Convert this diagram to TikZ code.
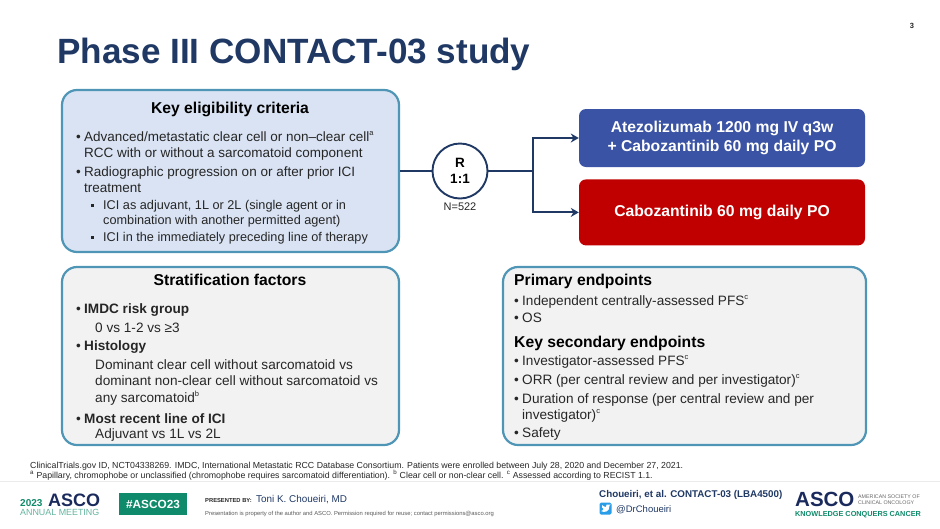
\documentclass[tikz,border=0pt]{standalone}
\usepackage{fontspec}
\setmainfont{Liberation Sans}
\usetikzlibrary{arrows.meta, positioning}
\definecolor{TitleNavy}{HTML}{1F3864}
\definecolor{BoxEdge}{HTML}{4F95B5}
\definecolor{BoxBlue}{HTML}{D9E3F3}
\definecolor{BoxGrey}{HTML}{F2F2F2}
\definecolor{ArmBlue}{HTML}{3A53A4}
\definecolor{ArmRed}{HTML}{C00000}
\definecolor{AscoGreen}{HTML}{0F8A6A}
\definecolor{AscoNavy}{HTML}{1B2A5C}
\definecolor{BodyText}{HTML}{262626}
\definecolor{TwitterBlue}{HTML}{2A9DE8}
\newcommand{\fsize}[1]{\fontsize{#1}{#1}\selectfont}
\newcommand{\noteref}[1]{\raisebox{0.42em}{\fsize{7.5}#1}}
\tikzset{
  infobox/.style={draw=BoxEdge, line width=2.2pt, rounded corners=15pt, inner sep=0pt},
  armbox/.style={rounded corners=7pt, inner sep=0pt, minimum width=286pt, align=center,
    text=white, font=\fsize{15.7}\bfseries},
  link/.style={draw=TitleNavy, line width=1.9pt},
  linkarrow/.style={link, -{Stealth[length=8pt,width=9pt]}},
  headline/.style={anchor=base, text=black, inner sep=0pt, font=\fsize{15.7}\bfseries},
  subhead/.style={anchor=base west, text=black, inner sep=0pt, font=\fsize{15.7}\bfseries},
  bodyline/.style={anchor=base west, text=BodyText, inner sep=0pt, font=\fsize{13.6}},
  boldline/.style={bodyline, font=\fsize{13.6}\bfseries},
  eligline/.style={bodyline, font=\fsize{13.5}},
  subline/.style={bodyline, font=\fsize{12.7}},
  subbullet/.style={rectangle, fill=BodyText, inner sep=0pt, minimum size=3pt},
  noteline/.style={anchor=base west, text=BodyText, inner sep=0pt, font=\fsize{8.77}},
  footline/.style={anchor=base west, inner sep=0pt},
}
\begin{document}
\begin{tikzpicture}[x=1pt, y=-1pt]
  \useasboundingbox (0,0) rectangle (940,528);
  \node[anchor=base west, inner sep=0pt, text=TitleNavy, font=\fsize{35.1}\bfseries] (title) at (57,63) {Phase III CONTACT-03 study};
  \node[anchor=base, inner sep=0pt, font=\fsize{7.5}\bfseries, text=BodyText] (pagenum) at (912,28) {3};

  % boxes
  \node[infobox, fill=BoxBlue, minimum width=337pt, minimum height=162pt] (elig) at (230.5,171) {};
  \node[infobox, fill=BoxGrey, minimum width=337pt, minimum height=178pt] (strat) at (230.5,356) {};
  \node[infobox, fill=BoxGrey, minimum width=363pt, minimum height=178pt] (endp) at (684.5,356) {};
  \node[armbox, fill=ArmBlue, minimum height=58pt] (armA) at (722,138) {Atezolizumab 1200 mg IV q3w\\[2.5pt]+ Cabozantinib 60 mg daily PO};
  \node[armbox, fill=ArmRed, minimum height=66pt, below=12pt of armA] (armB) {Cabozantinib 60 mg daily PO};

  % randomisation
  \node[circle, draw=TitleNavy, line width=1.9pt, fill=white, minimum size=55pt, inner sep=0pt, align=center,
    font=\fsize{13.5}\bfseries] (rand) at (460,171) {R\\[3pt]1:1};
  \node[below=3pt of rand, inner sep=0pt, text=BodyText, font=\fsize{11}] (nlabel) {N=522};
  \coordinate (split) at (533,171);
  \draw[link] (elig) -- (rand);
  \draw[link] (rand) -- (split);
  \draw[linkarrow] (split) |- (armA);
  \draw[linkarrow] (split) |- (armB);

  % eligibility text
  \node[headline] (eligH) at (230,113) {Key eligibility criteria};
  \node[eligline] (e0) at (76,141) {•};
  \node[eligline] (e1) at (84,141) {Advanced/metastatic clear cell or non–clear cell\noteref{a}};
  \node[eligline] (e2) at (84,157) {RCC with or without a sarcomatoid component};
  \node[eligline] (e3) at (76,176) {•};
  \node[eligline] (e4) at (84,176) {Radiographic progression on or after prior ICI};
  \node[eligline] (e5) at (84,192) {treatment};
  \node[subbullet] (e6) at (92,205) {};
  \node[subline] (e7) at (103,209) {ICI as adjuvant, 1L or 2L (single agent or in};
  \node[subline] (e8) at (103,224) {combination with another permitted agent)};
  \node[subbullet] (e9) at (92,237) {};
  \node[subline] (e10) at (103,241) {ICI in the immediately preceding line of therapy};

  % stratification text
  \node[headline] (stratH) at (230,285) {Stratification factors};
  \node[bodyline] (s0) at (76,313) {•};
  \node[boldline] (s1) at (84,313) {IMDC risk group};
  \node[bodyline] (s2) at (95,332) {0 vs 1-2 vs ≥3};
  \node[bodyline] (s3) at (76,350) {•};
  \node[boldline] (s4) at (84,350) {Histology};
  \node[bodyline] (s5) at (95,369) {Dominant clear cell without sarcomatoid vs};
  \node[bodyline] (s6) at (95,385) {dominant non-clear cell without sarcomatoid vs};
  \node[bodyline] (s7) at (95,402) {any sarcomatoid\noteref{b}};
  \node[bodyline] (s8) at (76,423) {•};
  \node[boldline] (s9) at (84,423) {Most recent line of ICI};
  \node[bodyline] (s10) at (95,438) {Adjuvant vs 1L vs 2L};

  % endpoints text
  \node[subhead] (endH1) at (514,285) {Primary endpoints};
  \node[bodyline] (p0) at (514,305) {•};
  \node[bodyline] (p1) at (522,305) {Independent centrally-assessed PFS\noteref{c}};
  \node[bodyline] (p2) at (514,322) {•};
  \node[bodyline] (p3) at (522,322) {OS};
  \node[subhead] (endH2) at (514,347) {Key secondary endpoints};
  \node[bodyline] (k0) at (514,365) {•};
  \node[bodyline] (k1) at (522,365) {Investigator-assessed PFS\noteref{c}};
  \node[bodyline] (k2) at (514,384) {•};
  \node[bodyline] (k3) at (522,384) {ORR (per central review and per investigator)\noteref{c}};
  \node[bodyline] (k4) at (514,403) {•};
  \node[bodyline] (k5) at (522,403) {Duration of response (per central review and per};
  \node[bodyline] (k6) at (522,419) {investigator)\noteref{c}};
  \node[bodyline] (k7) at (514,437) {•};
  \node[bodyline] (k8) at (522,437) {Safety};

  % footnotes
  \node[noteline] (note1) at (30,468) {ClinicalTrials.gov ID, NCT04338269. IMDC, International Metastatic RCC Database Consortium. Patients were enrolled between July 28, 2020 and December 27, 2021.};
  \node[noteline] (note2) at (30,478) {\textsuperscript{a} Papillary, chromophobe or unclassified (chromophobe requires sarcomatoid differentiation). \textsuperscript{b} Clear cell or non-clear cell. \textsuperscript{c} Assessed according to RECIST 1.1.};
  \draw[black!8, line width=0.8pt] (0,481) -- (940,481);

  % footer
  \node[footline, text=AscoGreen, font=\fsize{10}\bfseries] (year) at (20,506) {2023};
  \node[footline, text=AscoNavy, font=\fsize{18}\bfseries] (ascoL) at (48,506) {ASCO};
  \node[footline, text=AscoGreen!65, font=\fsize{8.9}] (meeting) at (20,515) {ANNUAL MEETING};
  \node[fill=AscoGreen, text=white, inner sep=0pt, minimum width=68pt, minimum height=22pt, font=\fsize{11.8}\bfseries] (tag) at (153,504) {\#ASCO23};
  \node[footline, text=BodyText, font=\fsize{5.8}\bfseries] (byline) at (205,502.5) {PRESENTED BY:};
  \node[footline, text=TitleNavy, font=\fsize{9.9}] (speaker) at (256,502.5) {Toni K. Choueiri, MD};
  \node[footline, text=black!65, font=\fsize{5.84}] (rights) at (205,515) {Presentation is property of the author and ASCO. Permission required for reuse; contact permissions@asco.org};
  \node[footline, text=TitleNavy, font=\fsize{9.8}\bfseries] (cite) at (599,497) {Choueiri, et al. CONTACT-03 (LBA4500)};
  \node[fill=TwitterBlue, rounded corners=1.5pt, minimum size=12pt, inner sep=0pt] (twit) at (605.5,508.5) {};
  \fill[white] (601,511) .. controls (604,513) and (610,512) .. (609.5,505.5) -- (611,504.5) -- (609,504.5) .. controls (607.5,503.5) and (605,505) .. (606,507) .. controls (604.5,507) and (603,506) .. (602,505) .. controls (601.5,507) and (602.5,508.5) .. (603.5,509) .. controls (603,510.5) and (602,511) .. (601,511) -- cycle;
  \node[footline, text=TitleNavy, font=\fsize{9.5}] (handle) at (616,512) {@DrChoueiri};
  \node[footline, text=AscoNavy, font=\fsize{20.5}\bfseries] (ascoR) at (795,506) {ASCO};
  \node[footline, text=black!60, font=\fsize{5.3}] (soc1) at (858,498) {AMERICAN SOCIETY OF};
  \node[footline, text=black!60, font=\fsize{5.3}] (soc2) at (858,504) {CLINICAL ONCOLOGY};
  \node[footline, text=AscoGreen, font=\fsize{7.3}\bfseries] (motto) at (795,516) {KNOWLEDGE CONQUERS CANCER};
\end{tikzpicture}
\end{document}
